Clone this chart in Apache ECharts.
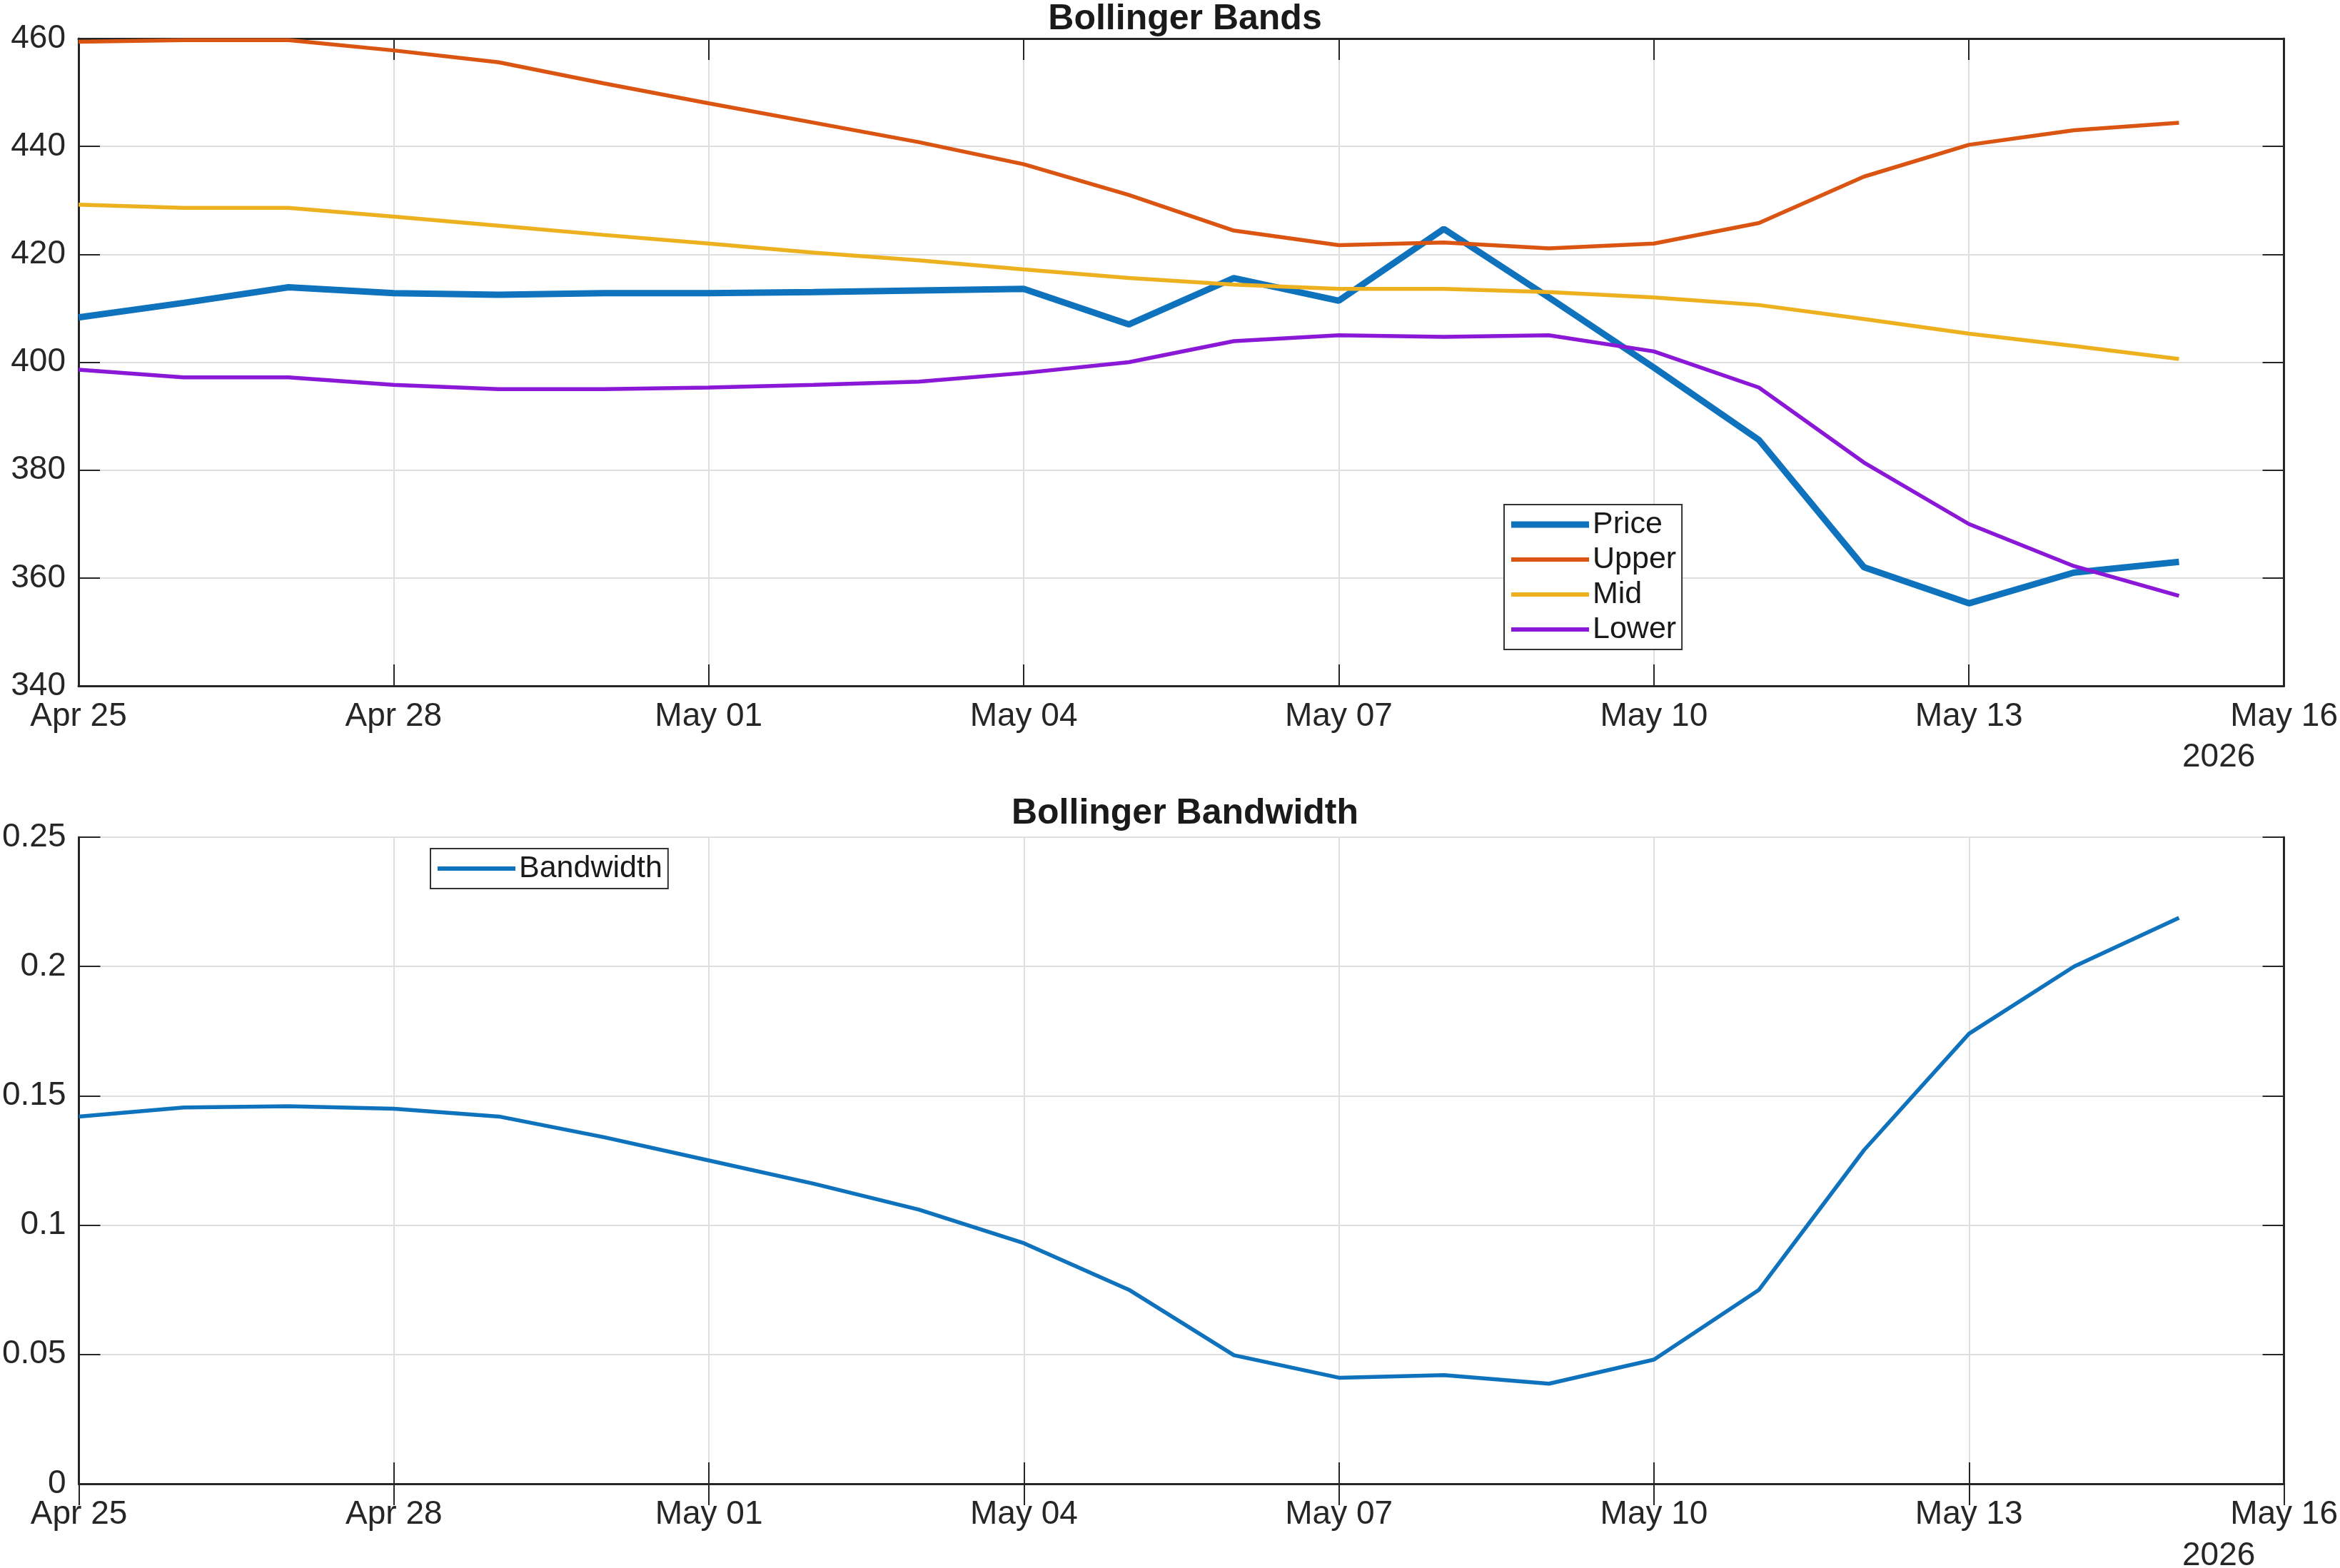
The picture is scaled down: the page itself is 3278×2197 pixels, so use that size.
<!DOCTYPE html>
<html>
<head>
<meta charset="utf-8">
<script src="https://cdn.jsdelivr.net/npm/echarts@6/dist/echarts.min.js"></script>
<style>
html,body{margin:0;padding:0;background:#fff;}
#c{width:3278px;height:2197px;}
</style>
</head>
<body>
<div id="c"></div>
<script>
// Categories (days); last day (May 16) is the axis end with no data
const dates = ['Apr 25','Apr 26','Apr 27','Apr 28','Apr 29','Apr 30','May 01','May 02','May 03','May 04','May 05','May 06','May 07','May 08','May 09','May 10','May 11','May 12','May 13','May 14','May 15','May 16'];
const price = [408.3,411.0,413.9,412.8,412.5,412.8,412.8,413.0,413.3,413.6,407.0,415.6,411.4,424.7,412.0,399.0,385.6,362.0,355.3,361.0,363.0];
const upper = [459.4,459.7,459.7,457.8,455.6,451.7,448.0,444.4,440.8,436.7,431.0,424.4,421.7,422.2,421.1,422.0,425.8,434.4,440.3,443.0,444.4];
const mid   = [429.2,428.6,428.6,427.0,425.3,423.6,422.0,420.3,418.9,417.2,415.6,414.4,413.6,413.6,413.0,412.0,410.6,408.0,405.3,403.0,400.6];
const lower = [398.6,397.2,397.2,395.8,395.0,395.0,395.3,395.8,396.4,398.0,400.0,403.9,405.0,404.7,405.0,402.0,395.3,381.4,370.0,362.2,356.7];
const bandwidth = [0.142,0.1455,0.146,0.145,0.142,0.134,0.125,0.116,0.106,0.093,0.075,0.0497,0.041,0.042,0.0387,0.048,0.075,0.129,0.174,0.200,0.2188];
const yearLabel = '2026';

const FONT = 'Liberation Sans, Arial, Helvetica, sans-serif';
const AX = '#262626';
const chart = echarts.init(document.getElementById('c'), null, {renderer:'canvas'});

function xAxisPair(gi){
  return [
    {type:'category', gridIndex:gi, data:dates, boundaryGap:false, position:'bottom',
     axisLine:{show:true, lineStyle:{color:AX, width:3}},
     axisTick:{show:true, inside:true, length:30, interval:2, lineStyle:{color:AX, width:2}},
     axisLabel:{show:true, interval:2, fontFamily:FONT, fontSize:46, color:AX, margin:20},
     splitLine:{show:true, interval:2, lineStyle:{color:'#dfdfdf', width:2}}},
    {type:'category', gridIndex:gi, data:dates, boundaryGap:false, position:'top',
     axisLine:{show:true, lineStyle:{color:AX, width:3}},
     axisTick:{show:true, inside:true, length:30, interval:2, lineStyle:{color:AX, width:2}},
     axisLabel:{show:false}, splitLine:{show:false}}
  ];
}
function yAxisPair(gi, min, max, interval, fmt){
  return [
    {type:'value', gridIndex:gi, min:min, max:max, interval:interval, position:'left',
     axisLine:{show:true, lineStyle:{color:AX, width:3}},
     axisTick:{show:true, inside:true, length:30, lineStyle:{color:AX, width:2}},
     axisLabel:{fontFamily:FONT, fontSize:46, color:AX, margin:18, formatter:fmt},
     splitLine:{show:true, lineStyle:{color:'#dfdfdf', width:2}}},
    {type:'value', gridIndex:gi, min:min, max:max, interval:interval, position:'right',
     axisLine:{show:true, lineStyle:{color:AX, width:3}},
     axisTick:{show:true, inside:true, length:30, lineStyle:{color:AX, width:2}},
     axisLabel:{show:false}, splitLine:{show:false}}
  ];
}

const C = {price:'#0F72BD', upper:'#DA5412', mid:'#EDB120', lower:'#8A18D6'};
const thinIcon = 'path://M0,0H109V6H0Z';
const thickIcon = 'path://M0,0H109V9H0Z';

const option = {
  backgroundColor:'#ffffff',
  animation:false,
  title:[
    {text:'Bollinger Bands', left:1655, textAlign:'center', top:-3,
     textStyle:{fontFamily:FONT, fontSize:50, fontWeight:'bold', color:'#1a1a1a'}},
    {text:'Bollinger Bandwidth', left:1655, textAlign:'center', top:1110,
     textStyle:{fontFamily:FONT, fontSize:50, fontWeight:'bold', color:'#1a1a1a'}}
  ],
  grid:[
    {left:110, width:3090, top:54, height:907},
    {left:110, width:3090, top:1173, height:906}
  ],
  xAxis:[].concat(xAxisPair(0), xAxisPair(1)),
  yAxis:[].concat(
    yAxisPair(0, 340, 460, 20, function(v){return String(v);}),
    yAxisPair(1, 0, 0.25, 0.05, function(v){return v===0?'0':String(+v.toFixed(2));})
  ),
  legend:[
    {data:[
       {name:'Price', icon:thickIcon, itemStyle:{color:C.price}},
       {name:'Upper', icon:thinIcon, itemStyle:{color:C.upper}},
       {name:'Mid', icon:thinIcon, itemStyle:{color:C.mid}},
       {name:'Lower', icon:thinIcon, itemStyle:{color:C.lower}}],
     orient:'vertical', left:2107, top:707,
     itemWidth:109, itemHeight:9, itemGap:5, padding:[6,8,6,10],
     borderColor:'#333', borderWidth:2, backgroundColor:'#fff',
     textStyle:{fontFamily:FONT, fontSize:43, color:'#1a1a1a', lineHeight:44}},
    {data:[{name:'Bandwidth', icon:thinIcon, itemStyle:{color:C.price}}],
     orient:'vertical', left:603, top:1189,
     itemWidth:109, itemHeight:9, padding:[6,8,6,10],
     borderColor:'#333', borderWidth:2, backgroundColor:'#fff',
     textStyle:{fontFamily:FONT, fontSize:43, color:'#1a1a1a', lineHeight:44}}
  ],
  series:[
    {name:'Upper', type:'line', xAxisIndex:0, yAxisIndex:0, data:upper, showSymbol:false, symbol:'none',
     lineStyle:{color:C.upper, width:5.5}, itemStyle:{color:C.upper}, z:3},
    {name:'Mid', type:'line', xAxisIndex:0, yAxisIndex:0, data:mid, showSymbol:false, symbol:'none',
     lineStyle:{color:C.mid, width:5.5}, itemStyle:{color:C.mid}, z:3},
    {name:'Lower', type:'line', xAxisIndex:0, yAxisIndex:0, data:lower, showSymbol:false, symbol:'none',
     lineStyle:{color:C.lower, width:5.5}, itemStyle:{color:C.lower}, z:3},
    {name:'Price', type:'line', xAxisIndex:0, yAxisIndex:0, data:price, showSymbol:false, symbol:'none',
     lineStyle:{color:C.price, width:9}, itemStyle:{color:C.price}, z:2},
    {name:'Bandwidth', type:'line', xAxisIndex:2, yAxisIndex:2, data:bandwidth, showSymbol:false, symbol:'none',
     lineStyle:{color:C.price, width:5.5}, itemStyle:{color:C.price}, z:3}
  ],
  graphic:[
    {type:'text', left:3057, top:1038, style:{text:yearLabel, font:'46px '+FONT, fill:AX}},
    {type:'text', left:3057, top:2157, style:{text:yearLabel, font:'46px '+FONT, fill:AX}}
  ]
};
chart.setOption(option);
</script>
</body>
</html>
